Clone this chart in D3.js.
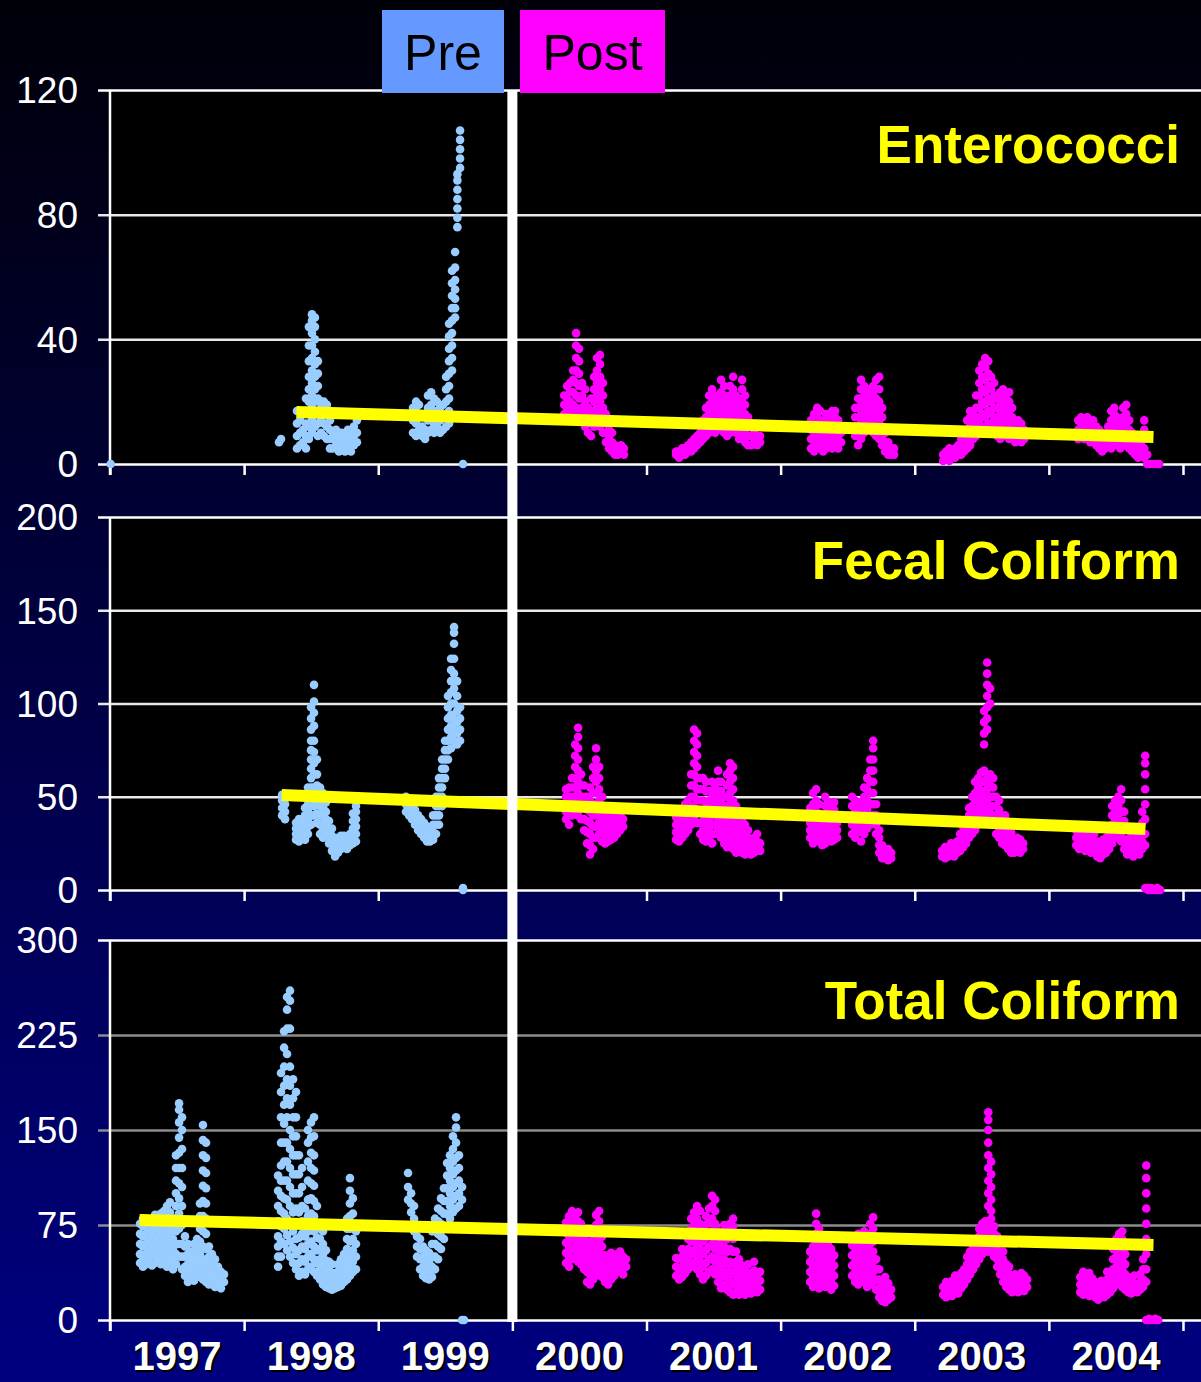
<!DOCTYPE html>
<html>
<head>
<meta charset="utf-8">
<script src="https://cdn.jsdelivr.net/npm/d3@7"></script>
<style>
  body { margin: 0; background: #000; }
  svg { display: block; }
</style>
</head>
<body>
<script>
// each row: [date (decimal year), value, value, ...] - several stations per date
var enteroPre = [
  [1997.005, 0],
  [1998.260, 7], [1998.275, 8],
  [1998.394, 5, 9, 13, 17], [1998.417, 6, 10, 14], [1998.439, 7, 11, 16],
  [1998.461, 5, 9, 13, 17, 21], [1998.483, 8, 12, 16, 20, 24, 28, 33, 38, 44],
  [1998.506, 10, 14, 18, 22, 26, 30, 34, 38, 42, 46, 48], [1998.528, 12, 16, 20, 24, 28, 32, 36, 40, 44, 47],
  [1998.550, 9, 13, 17, 21, 25, 29, 33], [1998.573, 10, 14, 18, 20], [1998.595, 9, 13, 17, 20],
  [1998.617, 8, 12, 16, 19], [1998.640, 5, 8, 11, 14], [1998.662, 5, 8, 10], [1998.685, 6, 9, 11],
  [1998.707, 4, 7, 10], [1998.729, 5, 8, 10], [1998.752, 4, 6, 9], [1998.774, 5, 8, 11],
  [1998.796, 4, 7, 10], [1998.818, 6, 9, 12], [1998.841, 7, 10, 14],
  [1999.259, 10, 14, 18], [1999.282, 9, 13, 17, 20], [1999.304, 11, 15, 19], [1999.327, 9, 12, 16],
  [1999.349, 8, 11, 15], [1999.371, 10, 14, 18, 22], [1999.394, 11, 15, 19, 23], [1999.416, 10, 13, 17, 21],
  [1999.438, 12, 16, 20], [1999.461, 10, 14, 18], [1999.483, 11, 15, 19], [1999.506, 12, 16, 20, 24, 28],
  [1999.528, 13, 17, 21, 25, 29, 33, 37, 41, 45], [1999.550, 30, 34, 38, 42, 46, 50, 54, 58, 62],
  [1999.573, 47, 50, 53, 56, 59, 63, 68], [1999.590, 76, 79, 82, 85, 88, 91, 93],
  [1999.610, 95, 98, 101, 104, 107], [1999.632, 0]
];
var enteroPost = [
  [2000.386, 16, 19, 22], [2000.408, 15, 18, 21, 25], [2000.430, 17, 20, 23, 26], [2000.453, 16, 19, 23, 27, 30],
  [2000.475, 18, 22, 26, 30, 34, 38, 42], [2000.497, 17, 21, 25, 29, 33, 37], [2000.520, 15, 18, 22, 26],
  [2000.542, 12, 16, 20, 24], [2000.564, 10, 14, 18], [2000.587, 9, 13, 17, 21], [2000.609, 12, 16, 20, 24, 28],
  [2000.631, 14, 18, 22, 26, 30, 34], [2000.654, 12, 16, 20, 24, 28, 32, 35], [2000.676, 10, 14, 18, 22, 26],
  [2000.698, 7, 10, 13, 16], [2000.721, 5, 8, 11], [2000.743, 4, 7, 10], [2000.765, 3, 6], [2000.788, 3, 5],
  [2000.810, 4, 6], [2000.832, 3, 5],
  [2001.221, 3, 4], [2001.243, 2, 4], [2001.266, 3, 5], [2001.288, 3, 5], [2001.310, 4, 6], [2001.333, 4, 7],
  [2001.355, 5, 8], [2001.377, 6, 9], [2001.400, 7, 10, 13], [2001.422, 8, 11, 14], [2001.444, 9, 12, 15, 18],
  [2001.467, 10, 13, 16, 19, 22], [2001.489, 11, 14, 17, 20, 24], [2001.512, 10, 13, 16, 19, 22],
  [2001.534, 12, 15, 18, 21], [2001.556, 11, 14, 17, 20, 23, 27], [2001.579, 10, 13, 16, 19, 22, 25],
  [2001.601, 9, 12, 15, 18, 21], [2001.623, 10, 13, 16, 19, 22, 25], [2001.646, 12, 15, 18, 21, 24, 28],
  [2001.668, 10, 13, 16, 19, 22], [2001.690, 8, 11, 14, 17, 20], [2001.713, 9, 12, 15, 18, 21, 24, 27],
  [2001.735, 7, 10, 13, 16, 19, 22], [2001.757, 6, 9, 12, 15], [2001.780, 6, 9, 12], [2001.802, 7, 10],
  [2001.825, 6, 9], [2001.847, 7, 9],
  [2002.227, 5, 8, 11, 14], [2002.250, 4, 7, 10, 13, 16], [2002.272, 6, 9, 12, 15, 18], [2002.295, 5, 8, 11, 14, 17],
  [2002.317, 4, 7, 10, 13], [2002.339, 5, 8, 11, 14, 16], [2002.362, 6, 9, 12, 15], [2002.384, 5, 8, 11, 14, 17],
  [2002.406, 6, 9, 12, 15, 17], [2002.429, 5, 8, 11, 14], [2002.451, 7, 10],
  [2002.556, 9, 12, 15, 18], [2002.578, 6, 9, 12, 15, 18, 21], [2002.600, 8, 11, 14, 17, 20, 24, 27],
  [2002.623, 10, 13, 16, 19, 22, 25], [2002.645, 12, 15, 18, 21, 24], [2002.668, 11, 14, 17, 20, 23],
  [2002.690, 10, 13, 16, 19, 22, 25], [2002.712, 9, 12, 15, 18, 21, 24, 27], [2002.735, 8, 11, 14, 17, 20, 24, 28],
  [2002.757, 6, 9, 12, 15, 18], [2002.779, 4, 7, 10], [2002.802, 3, 5, 7], [2002.824, 3, 5], [2002.846, 3, 5],
  [2003.212, 1, 3], [2003.234, 2, 4], [2003.257, 1, 3, 5], [2003.279, 2, 4], [2003.301, 2, 5], [2003.324, 3, 6],
  [2003.346, 3, 5, 8], [2003.368, 4, 7, 10], [2003.391, 5, 8, 11, 14], [2003.413, 6, 9, 12, 15, 17],
  [2003.436, 8, 11, 14, 17], [2003.458, 9, 12, 15, 18, 22], [2003.481, 10, 14, 18, 22, 26, 30],
  [2003.503, 12, 16, 20, 24, 28, 32], [2003.525, 11, 15, 19, 23, 27, 31, 34], [2003.548, 13, 17, 21, 25, 29, 33],
  [2003.570, 12, 16, 20, 24, 28], [2003.592, 10, 14, 18, 22, 26], [2003.615, 9, 12, 15, 18, 21],
  [2003.637, 8, 11, 14, 17, 20, 23], [2003.659, 10, 13, 16, 19, 22, 24], [2003.682, 9, 12, 15, 18, 21],
  [2003.704, 8, 11, 14, 17, 20, 23], [2003.726, 9, 12, 15, 18], [2003.749, 7, 10, 13], [2003.771, 8, 11, 14],
  [2003.794, 7, 10, 13], [2003.816, 8, 11],
  [2004.219, 8, 11, 14], [2004.241, 9, 12, 15], [2004.263, 8, 11, 14], [2004.286, 9, 12, 15], [2004.308, 7, 10, 13],
  [2004.330, 8, 11, 14], [2004.353, 6, 9, 12], [2004.375, 5, 8, 11], [2004.397, 4, 7, 10], [2004.420, 5, 8],
  [2004.442, 6, 9, 12], [2004.465, 5, 8, 11, 14, 17], [2004.487, 7, 10, 13, 16, 18], [2004.510, 6, 9, 12, 15],
  [2004.532, 5, 8, 11, 14], [2004.554, 6, 9, 12, 15, 18], [2004.577, 7, 10, 13, 16, 19], [2004.599, 5, 8, 11, 14],
  [2004.621, 4, 7, 10], [2004.644, 3, 6, 9], [2004.666, 2, 5, 8], [2004.688, 3, 6], [2004.711, 2, 5, 8, 11, 14],
  [2004.733, 0, 3], [2004.755, 0], [2004.778, 0], [2004.800, 0], [2004.822, 0]
];

var fecalPre = [
  [1998.283, 40, 44, 48, 51], [1998.305, 38, 42, 46],
  [1998.387, 27, 30, 33, 36], [1998.409, 26, 29, 32, 35, 38], [1998.432, 28, 31, 34],
  [1998.454, 27, 30, 33, 36, 40, 44], [1998.476, 30, 34, 38, 42, 46, 50, 55],
  [1998.499, 35, 40, 45, 50, 55, 60, 65, 70, 75, 80, 86, 92, 98],
  [1998.521, 40, 45, 50, 55, 62, 68, 74, 80, 88, 95, 101, 110], [1998.543, 36, 41, 46, 51, 56, 62, 70],
  [1998.566, 30, 35, 40, 45, 50, 55], [1998.588, 28, 32, 36, 40, 44, 48, 52], [1998.610, 30, 34, 38, 42, 47],
  [1998.633, 25, 29, 33, 37], [1998.655, 21, 25, 29, 33], [1998.678, 18, 22, 26], [1998.700, 20, 24, 28],
  [1998.722, 22, 26, 29], [1998.745, 23, 26, 29], [1998.767, 22, 25, 28], [1998.789, 24, 27, 30],
  [1998.811, 25, 29, 33, 37, 41], [1998.834, 26, 30, 34, 38, 42, 45],
  [1999.207, 42, 46, 50], [1999.230, 40, 44, 48], [1999.252, 38, 42, 46], [1999.274, 35, 39, 43],
  [1999.297, 32, 36, 40], [1999.319, 30, 34, 38], [1999.342, 28, 32, 36], [1999.364, 26, 30, 34],
  [1999.386, 26, 29, 33], [1999.409, 27, 31, 35, 40], [1999.431, 30, 35, 40, 45, 50],
  [1999.453, 35, 40, 45, 50, 55, 60], [1999.476, 45, 50, 55, 60, 65, 70], [1999.498, 60, 65, 70, 75, 80],
  [1999.520, 70, 75, 80, 86, 92, 98, 104], [1999.543, 76, 82, 88, 94, 100, 106, 112, 118, 124],
  [1999.565, 80, 86, 92, 100, 108, 116, 124, 132, 138, 141], [1999.588, 78, 84, 90, 96, 104, 112],
  [1999.610, 80, 86, 92, 98], [1999.632, 0, 1]
];
var fecalPost = [
  [2000.400, 38, 42, 46, 50, 54], [2000.423, 35, 40, 45, 50, 55], [2000.445, 40, 45, 50, 55, 60],
  [2000.468, 45, 50, 55, 60, 66, 72, 78], [2000.490, 40, 46, 52, 58, 64, 70, 76, 82, 87],
  [2000.512, 38, 44, 50, 56, 62], [2000.535, 32, 38, 44, 50, 56], [2000.557, 25, 31, 37, 43, 50],
  [2000.579, 19, 24, 30, 36, 42, 48, 55], [2000.602, 22, 28, 34, 40, 46, 52, 60, 66],
  [2000.624, 28, 34, 40, 46, 52, 58, 64, 70, 76], [2000.647, 30, 36, 42, 48, 54, 60, 66],
  [2000.669, 26, 32, 38, 44, 50], [2000.691, 25, 30, 35, 40], [2000.714, 26, 30, 34, 38, 42],
  [2000.736, 27, 31, 35, 39], [2000.759, 28, 32, 36, 40, 43], [2000.781, 30, 34, 38], [2000.803, 32, 36, 40],
  [2000.826, 34, 38],
  [2001.221, 27, 31, 35, 39], [2001.243, 26, 30, 34, 38], [2001.266, 28, 32, 36, 40], [2001.288, 30, 34, 38, 42, 46],
  [2001.310, 32, 36, 40, 44, 48], [2001.333, 35, 40, 45, 50, 56, 62], [2001.355, 38, 44, 50, 56, 62, 68, 74, 80, 86],
  [2001.377, 36, 42, 48, 54, 60, 66, 72, 78, 84], [2001.400, 30, 36, 42, 48, 54, 60],
  [2001.422, 27, 32, 37, 42, 48, 54, 60], [2001.444, 26, 31, 36, 41, 47, 53, 58], [2001.467, 28, 33, 38, 43, 48, 53],
  [2001.489, 25, 30, 35, 40, 46, 52, 58], [2001.512, 30, 35, 40, 45, 50, 55], [2001.534, 32, 37, 42, 47, 52, 58, 64],
  [2001.556, 28, 33, 38, 43, 48, 53, 58], [2001.579, 25, 30, 35, 40, 45, 50], [2001.601, 23, 28, 33, 38, 44, 50, 56, 62],
  [2001.623, 25, 30, 35, 40, 46, 52, 58, 64, 68], [2001.646, 22, 27, 32, 37, 42, 48, 54, 60, 66],
  [2001.668, 20, 25, 30, 35, 40, 45], [2001.690, 21, 26, 31, 36, 41], [2001.713, 20, 24, 28, 33, 38],
  [2001.735, 19, 23, 27, 31, 35], [2001.757, 20, 24, 28, 32], [2001.780, 19, 23, 27], [2001.802, 20, 24, 28],
  [2001.825, 22, 26, 30], [2001.847, 21, 25],
  [2002.220, 28, 32, 36, 40, 44], [2002.242, 25, 30, 35, 40, 46, 52], [2002.265, 27, 32, 37, 42, 48, 54],
  [2002.287, 26, 31, 36, 41, 46], [2002.310, 24, 28, 32, 36, 40], [2002.332, 25, 30, 35, 40, 45, 50],
  [2002.354, 27, 32, 37, 42, 47], [2002.377, 26, 30, 34, 38, 42, 46], [2002.399, 27, 31, 35, 39, 43, 47],
  [2002.421, 28, 32, 36, 40],
  [2002.533, 30, 35, 40, 45, 50], [2002.556, 28, 33, 38, 43, 48], [2002.578, 32, 37, 42, 47],
  [2002.600, 26, 31, 36, 41, 46], [2002.623, 30, 35, 40, 45, 50, 55], [2002.645, 33, 38, 43, 48, 54, 60],
  [2002.668, 35, 40, 46, 52, 58, 64, 70], [2002.690, 40, 46, 52, 58, 64, 70, 76, 80], [2002.712, 30, 35, 40, 46],
  [2002.735, 20, 24, 28, 32], [2002.757, 17, 20, 24], [2002.779, 17, 20], [2002.802, 16, 19, 22], [2002.824, 17, 20],
  [2003.204, 18, 21], [2003.227, 17, 20, 23], [2003.249, 18, 21], [2003.271, 19, 22, 25], [2003.294, 18, 21, 24],
  [2003.316, 20, 23, 26], [2003.338, 21, 24, 27, 30], [2003.361, 23, 26, 30, 34], [2003.383, 25, 29, 33, 37],
  [2003.405, 28, 32, 36, 40, 44], [2003.428, 30, 35, 40, 45, 50], [2003.450, 32, 37, 42, 47, 52, 58],
  [2003.473, 35, 40, 45, 50, 55, 60], [2003.495, 38, 43, 48, 53, 58, 63],
  [2003.517, 40, 46, 52, 58, 64, 78, 84, 90, 96], [2003.540, 36, 42, 48, 54, 60, 86, 92, 98, 104, 110, 116, 122],
  [2003.562, 38, 44, 50, 56, 62, 100, 108], [2003.585, 35, 40, 45, 50, 55, 60], [2003.607, 30, 35, 40, 45, 50],
  [2003.629, 28, 33, 38, 43, 48], [2003.652, 25, 30, 35, 40], [2003.674, 24, 28, 32, 36, 40],
  [2003.696, 22, 26, 30, 34], [2003.719, 20, 24, 28, 31], [2003.741, 20, 23, 27], [2003.764, 21, 24, 28],
  [2003.786, 20, 24, 27], [2003.808, 22, 25],
  [2004.204, 24, 28, 32], [2004.226, 22, 26, 30], [2004.248, 24, 28, 32], [2004.271, 21, 25, 29],
  [2004.293, 23, 27, 31], [2004.315, 20, 24, 28], [2004.338, 22, 26, 30], [2004.360, 18, 22, 26],
  [2004.383, 17, 20, 24], [2004.405, 19, 23, 27], [2004.427, 20, 24, 28], [2004.450, 22, 26, 30, 34],
  [2004.472, 25, 30, 35, 40, 45], [2004.495, 28, 33, 38, 43, 48], [2004.517, 30, 35, 40, 45, 50],
  [2004.539, 26, 31, 36, 42, 48, 54], [2004.562, 22, 27, 32, 37, 42], [2004.584, 19, 23, 27], [2004.606, 20, 24, 28],
  [2004.629, 18, 22, 26], [2004.651, 20, 24, 28], [2004.674, 19, 23, 27], [2004.696, 22, 26, 30, 36, 42],
  [2004.718, 1, 24, 30, 38, 46, 54, 62, 68, 72], [2004.741, 0, 1], [2004.763, 0, 1], [2004.785, 0],
  [2004.808, 0, 1], [2004.830, 0]
];

var totalPre = [
  [1997.224, 45, 52, 60, 68, 76], [1997.246, 42, 50, 58, 66, 74, 80], [1997.268, 44, 52, 60, 68, 76],
  [1997.291, 46, 54, 62, 70, 78], [1997.313, 43, 51, 59, 67, 75], [1997.336, 45, 53, 61, 69, 77, 83],
  [1997.358, 48, 56, 64, 72, 80], [1997.380, 44, 52, 60, 68, 76, 84], [1997.403, 46, 54, 62, 70, 78, 86],
  [1997.425, 42, 50, 58, 66, 74, 82, 90], [1997.447, 45, 53, 61, 69, 77, 85, 93], [1997.470, 40, 48, 56, 64, 72, 80],
  [1997.492, 44, 52, 60, 70, 80, 90, 100, 110, 120, 130],
  [1997.515, 50, 60, 72, 84, 96, 108, 120, 132, 144, 156, 166, 171],
  [1997.537, 40, 50, 60, 75, 90, 105, 120, 135, 150, 160], [1997.559, 35, 42, 50, 58, 66],
  [1997.581, 30, 37, 44, 52, 60], [1997.604, 33, 40, 47, 54], [1997.626, 31, 38, 45, 52, 60],
  [1997.649, 34, 41, 48, 56, 64], [1997.671, 36, 44, 52, 62, 72, 82, 92],
  [1997.693, 32, 40, 48, 58, 70, 82, 94, 106, 118, 130, 142, 154],
  [1997.716, 30, 38, 46, 56, 68, 80, 92, 104, 116, 128, 140], [1997.738, 28, 35, 42, 50, 58],
  [1997.760, 30, 37, 44, 52], [1997.783, 26, 33, 40, 48], [1997.805, 28, 35, 42], [1997.827, 25, 32, 38],
  [1997.850, 30, 36],
  [1998.253, 42, 50, 58, 66, 78, 90, 102, 114],
  [1998.275, 50, 62, 74, 86, 98, 110, 122, 140, 160, 180, 195],
  [1998.298, 60, 72, 84, 96, 110, 125, 140, 155, 170, 185, 200, 215, 228],
  [1998.320, 55, 67, 80, 95, 110, 125, 140, 160, 175, 190, 210, 230, 245, 255],
  [1998.342, 50, 62, 75, 90, 105, 120, 135, 150, 170, 185, 200, 230, 252, 260],
  [1998.365, 45, 57, 70, 85, 100, 115, 130, 145, 160, 175, 190],
  [1998.387, 40, 52, 64, 76, 88, 100, 115, 130, 145, 160, 180],
  [1998.409, 35, 45, 55, 65, 75, 85, 100, 115, 130], [1998.432, 38, 48, 58, 68, 78, 90, 105, 120],
  [1998.454, 36, 46, 56, 66, 76, 88], [1998.476, 40, 50, 60, 70, 82, 95, 110, 125, 140, 150],
  [1998.499, 42, 52, 62, 72, 84, 96, 108, 120, 132, 144, 156],
  [1998.521, 38, 48, 58, 70, 82, 94, 106, 118, 130, 145, 160], [1998.543, 35, 45, 55, 65, 75, 90],
  [1998.566, 32, 40, 48, 56, 64, 72], [1998.588, 28, 36, 44, 52, 60, 70], [1998.610, 26, 33, 40, 47, 55],
  [1998.633, 25, 32, 39, 46], [1998.655, 24, 30, 37, 44], [1998.678, 25, 31, 37], [1998.700, 26, 32, 38, 44],
  [1998.722, 27, 34, 41, 48], [1998.745, 30, 37, 44, 52], [1998.767, 32, 40, 48, 56, 64, 72, 80],
  [1998.789, 35, 43, 52, 62, 72, 82, 92, 102, 112], [1998.811, 38, 46, 55, 64, 74, 84, 96], [1998.834, 40, 50, 60, 70],
  [1999.222, 95, 105, 116], [1999.245, 85, 92, 100], [1999.267, 70, 80, 90], [1999.289, 50, 58, 66, 75],
  [1999.312, 40, 48, 56, 64], [1999.334, 35, 42, 50, 58], [1999.356, 33, 40, 47, 55], [1999.379, 32, 39, 46, 53],
  [1999.401, 34, 42, 50, 60, 70], [1999.423, 40, 50, 60, 70, 80], [1999.446, 48, 58, 68, 78, 88],
  [1999.468, 56, 66, 76, 86, 96], [1999.490, 64, 74, 84, 94, 104], [1999.513, 74, 84, 94, 104, 114, 124],
  [1999.535, 80, 90, 100, 110, 120, 130], [1999.557, 85, 95, 105, 115, 125, 135, 145],
  [1999.580, 88, 98, 108, 118, 128, 140, 152, 160], [1999.602, 90, 100, 110, 120, 130], [1999.625, 0, 95, 105],
  [1999.640, 0]
];
var totalPost = [
  [2000.400, 45, 53, 61, 69, 77], [2000.423, 42, 50, 58, 66, 74, 82], [2000.445, 48, 56, 64, 72, 80, 86],
  [2000.468, 50, 58, 66, 74, 82], [2000.490, 46, 54, 62, 70, 78, 85], [2000.512, 44, 52, 60, 68, 76],
  [2000.535, 40, 48, 56, 64, 72], [2000.557, 30, 38, 46, 54, 62, 70], [2000.579, 28, 36, 44, 52, 60],
  [2000.602, 32, 40, 48, 56, 64, 72], [2000.624, 35, 43, 51, 59, 67, 75, 83], [2000.647, 38, 46, 54, 62, 70, 78, 86],
  [2000.669, 34, 42, 50, 58, 66], [2000.691, 30, 37, 44, 51], [2000.714, 28, 35, 42, 49], [2000.736, 32, 39, 46, 53],
  [2000.759, 35, 42, 49], [2000.781, 38, 45, 52], [2000.803, 40, 47, 54], [2000.826, 36, 43, 50], [2000.848, 42, 48],
  [2001.221, 35, 42, 49], [2001.243, 32, 40, 48], [2001.266, 34, 42, 50, 56], [2001.288, 37, 45, 53],
  [2001.310, 40, 48, 56, 64], [2001.333, 42, 52, 62, 72, 80], [2001.355, 45, 55, 65, 75, 85],
  [2001.377, 40, 50, 60, 70, 80, 90], [2001.400, 36, 46, 56, 66, 76, 86], [2001.422, 32, 42, 52, 62, 72],
  [2001.444, 35, 45, 55, 65, 75, 82], [2001.467, 38, 48, 58, 68, 78, 88], [2001.489, 40, 50, 60, 70, 80, 90, 98],
  [2001.512, 36, 46, 56, 66, 76, 86, 95], [2001.534, 30, 40, 50, 60, 70], [2001.556, 25, 34, 44, 54, 64],
  [2001.579, 28, 38, 48, 58, 68, 75], [2001.601, 24, 34, 44, 54, 64, 72], [2001.623, 22, 30, 38, 46, 56, 66, 76],
  [2001.646, 20, 28, 36, 44, 54, 64, 74, 80], [2001.668, 22, 30, 38, 46, 54], [2001.690, 20, 27, 34, 41, 48],
  [2001.713, 22, 29, 36, 43], [2001.735, 20, 27, 34, 41], [2001.757, 23, 30, 37, 44], [2001.780, 21, 28, 35],
  [2001.802, 25, 32, 39, 46], [2001.825, 22, 29, 36], [2001.847, 24, 31, 38],
  [2002.220, 30, 38, 46, 54], [2002.242, 26, 34, 42, 50, 58, 66], [2002.265, 28, 36, 44, 52, 60, 68, 76, 84],
  [2002.287, 25, 33, 41, 49, 57, 65, 72], [2002.310, 30, 38, 46, 54, 62], [2002.332, 26, 34, 42, 50, 58, 66],
  [2002.354, 28, 36, 44, 52, 60], [2002.377, 24, 32, 40, 48, 56], [2002.399, 27, 35, 43, 51],
  [2002.533, 35, 43, 51, 59], [2002.556, 30, 38, 46, 54, 62], [2002.578, 28, 36, 44, 52, 60, 68],
  [2002.600, 32, 40, 48, 56, 64], [2002.623, 30, 38, 46, 54, 62, 70], [2002.645, 26, 34, 42, 50, 58],
  [2002.668, 28, 36, 44, 52, 60, 68, 76], [2002.690, 30, 38, 46, 54, 62, 72, 81], [2002.712, 24, 32, 40, 48],
  [2002.735, 18, 25, 32, 40], [2002.757, 15, 21, 28], [2002.779, 14, 20, 27, 34], [2002.802, 16, 22, 29],
  [2002.824, 18, 24],
  [2003.212, 20, 26], [2003.234, 18, 24, 30], [2003.257, 22, 28], [2003.279, 19, 25, 31], [2003.301, 23, 29, 35],
  [2003.324, 21, 27, 33], [2003.346, 25, 31, 37], [2003.368, 28, 34, 40], [2003.391, 32, 38, 44, 50],
  [2003.413, 36, 42, 48, 54], [2003.436, 40, 46, 52, 58], [2003.458, 44, 50, 56, 62], [2003.481, 48, 54, 60, 66, 72],
  [2003.503, 52, 58, 64, 70, 76], [2003.525, 55, 61, 67, 73, 78],
  [2003.548, 54, 60, 66, 72, 78, 90, 100, 110, 120, 130, 140, 150, 158, 164],
  [2003.570, 56, 62, 68, 74, 80, 86, 95, 105, 115, 125], [2003.592, 50, 56, 62, 68, 74],
  [2003.615, 42, 48, 54, 60, 66], [2003.637, 36, 42, 48, 54], [2003.659, 30, 36, 42, 48, 54],
  [2003.682, 26, 32, 38, 44], [2003.704, 24, 30, 36, 42], [2003.726, 22, 28, 34], [2003.749, 24, 30, 36],
  [2003.771, 22, 28, 34], [2003.794, 25, 31, 37], [2003.816, 23, 29, 35], [2003.838, 26, 32],
  [2004.234, 22, 28, 34], [2004.256, 20, 26, 32, 38], [2004.278, 22, 28, 34], [2004.301, 19, 25, 31, 37],
  [2004.323, 21, 27, 33], [2004.345, 18, 24, 30], [2004.368, 16, 22, 28], [2004.390, 19, 25, 31],
  [2004.412, 18, 24, 30], [2004.435, 20, 26, 32, 38], [2004.457, 22, 28, 34], [2004.479, 25, 32, 40, 48, 56],
  [2004.502, 28, 35, 42, 50, 58, 64], [2004.524, 30, 38, 46, 54, 62, 68], [2004.547, 26, 33, 40, 48, 56, 64, 70],
  [2004.569, 24, 30, 36, 44, 52], [2004.592, 22, 28, 34], [2004.614, 21, 27, 33], [2004.636, 23, 29, 35],
  [2004.659, 22, 28], [2004.681, 24, 30, 36], [2004.703, 26, 32, 40, 48],
  [2004.726, 0, 30, 40, 52, 64, 76, 88, 100, 112, 122], [2004.748, 0, 1], [2004.770, 0], [2004.793, 0, 1],
  [2004.815, 0]
];

// straight-line trends, [date, value] at each end
var enteroTrend = [[1998.39, 16.7], [2004.78, 8.7]];
var fecalTrend = [[1998.28, 51], [2004.72, 32.7]];
var totalTrend = [[1997.22, 79], [2004.78, 59.2]];

var enteroTicks = [0, 40, 80, 120];
var fecalTicks = [0, 50, 100, 150, 200];
var totalTicks = [0, 75, 150, 225, 300];
var yearTicks = [1997, 1998, 1999, 2000, 2001, 2002, 2003, 2004, 2005];
var yearLabels = ["1997", "1998", "1999", "2000", "2001", "2002", "2003", "2004"];

var W = 1201, H = 1382;
var font = "'Liberation Sans', Arial, sans-serif";

var svg = d3.select("body").append("svg")
    .attr("width", W)
    .attr("height", H)
    .style("font-family", font);

var grad = svg.append("defs").append("linearGradient")
    .attr("id", "bg").attr("x1", 0).attr("y1", 0).attr("x2", 0).attr("y2", 1);
grad.append("stop").attr("offset", "0%").attr("stop-color", "#000008");
grad.append("stop").attr("offset", "100%").attr("stop-color", "#000080");
svg.append("rect").attr("width", W).attr("height", H).attr("fill", "url(#bg)");

var x = d3.scaleLinear().domain([1997, 2005]).range([110, 1183]);

var panels = [
  {title: "Enterococci", top: 90, bottom: 464, ticks: enteroTicks, pre: enteroPre, post: enteroPost, trend: enteroTrend, grid: "#e8e8e8", titleY: 163},
  {title: "Fecal Coliform", top: 517, bottom: 890, ticks: fecalTicks, pre: fecalPre, post: fecalPost, trend: fecalTrend, grid: "#e8e8e8", titleY: 579},
  {title: "Total Coliform", top: 940, bottom: 1320, ticks: totalTicks, pre: totalPre, post: totalPost, trend: totalTrend, grid: "#8c8c8c", titleY: 1019}
];

function flatten(rows) {
  var out = [];
  rows.forEach(function(r) {
    r.slice(1).forEach(function(v) { out.push([r[0], v]); });
  });
  return out;
}

panels.forEach(function(p) {
  var top = d3.max(p.ticks);
  var y = d3.scaleLinear().domain([0, top]).range([p.bottom, p.top]);
  var g = svg.append("g");

  g.append("rect")
      .attr("x", 110).attr("y", p.top)
      .attr("width", W - 110).attr("height", p.bottom - p.top)
      .attr("fill", "#000");

  var yAxis = g.append("g")
      .attr("transform", "translate(98,0)")
      .call(d3.axisLeft(y).tickValues(p.ticks).tickSize(-(W - 98)).tickPadding(20).tickFormat(d3.format("d")));
  yAxis.select(".domain").remove();
  yAxis.selectAll(".tick line")
      .attr("stroke", function(d) { return (d == 0 || d == top) ? "#ffffff" : p.grid; })
      .attr("stroke-width", 2.5);
  yAxis.selectAll(".tick text")
      .attr("fill", "#fff")
      .attr("font-size", 37)
      .attr("font-family", font)
      .attr("dy", "0.35em");

  var xAxis = g.append("g")
      .attr("transform", "translate(0," + p.bottom + ")")
      .call(d3.axisBottom(x).tickValues(yearTicks).tickSize(11).tickFormat(""));
  xAxis.select(".domain").remove();
  xAxis.selectAll(".tick line").attr("stroke", "#fff").attr("stroke-width", 2.5);

  g.append("line")
      .attr("x1", 110).attr("x2", 110)
      .attr("y1", p.top).attr("y2", p.bottom + 11)
      .attr("stroke", "#fff").attr("stroke-width", 2.5);

  g.selectAll(".pre")
      .data(flatten(p.pre))
      .enter().append("circle")
      .attr("cx", function(d) { return x(d[0]); })
      .attr("cy", function(d) { return y(d[1]); })
      .attr("r", 4.3)
      .attr("fill", "#99ccff");

  g.selectAll(".post")
      .data(flatten(p.post))
      .enter().append("circle")
      .attr("cx", function(d) { return x(d[0]); })
      .attr("cy", function(d) { return y(d[1]); })
      .attr("r", 4.3)
      .attr("fill", "#ff00ff");

  g.append("line")
      .attr("x1", x(p.trend[0][0])).attr("y1", y(p.trend[0][1]))
      .attr("x2", x(p.trend[1][0])).attr("y2", y(p.trend[1][1]))
      .attr("stroke", "#ffff00")
      .attr("stroke-width", 12);

  g.append("text")
      .attr("x", 1180).attr("y", p.titleY)
      .attr("text-anchor", "end")
      .attr("font-size", 53).attr("font-weight", "bold")
      .attr("fill", "#ffff00")
      .text(p.title);
});

// pre / post divider
svg.append("rect")
    .attr("x", x(2000) - 5).attr("y", 90)
    .attr("width", 10).attr("height", 1232)
    .attr("fill", "#fff");

svg.append("rect").attr("x", 382).attr("y", 10).attr("width", 122).attr("height", 83).attr("fill", "#6699ff");
svg.append("text").attr("x", 443).attr("y", 70).attr("text-anchor", "middle")
    .attr("font-size", 50).attr("fill", "#000").text("Pre");
svg.append("rect").attr("x", 520).attr("y", 10).attr("width", 145).attr("height", 83).attr("fill", "#ff00ff");
svg.append("text").attr("x", 592.5).attr("y", 70).attr("text-anchor", "middle")
    .attr("font-size", 50).attr("fill", "#000").text("Post");

// year labels under the bottom panel, with a dark drop shadow
var yl = svg.append("g").selectAll("g")
    .data(yearLabels)
    .enter().append("g")
    .attr("transform", function(d) { return "translate(" + x(+d + 0.5) + ",1370)"; });
yl.append("text")
    .attr("x", 2).attr("y", 2)
    .attr("text-anchor", "middle").attr("font-size", 40).attr("font-weight", "bold")
    .attr("fill", "#000")
    .text(function(d) { return d; });
yl.append("text")
    .attr("text-anchor", "middle").attr("font-size", 40).attr("font-weight", "bold")
    .attr("fill", "#fff")
    .text(function(d) { return d; });
</script>
</body>
</html>
